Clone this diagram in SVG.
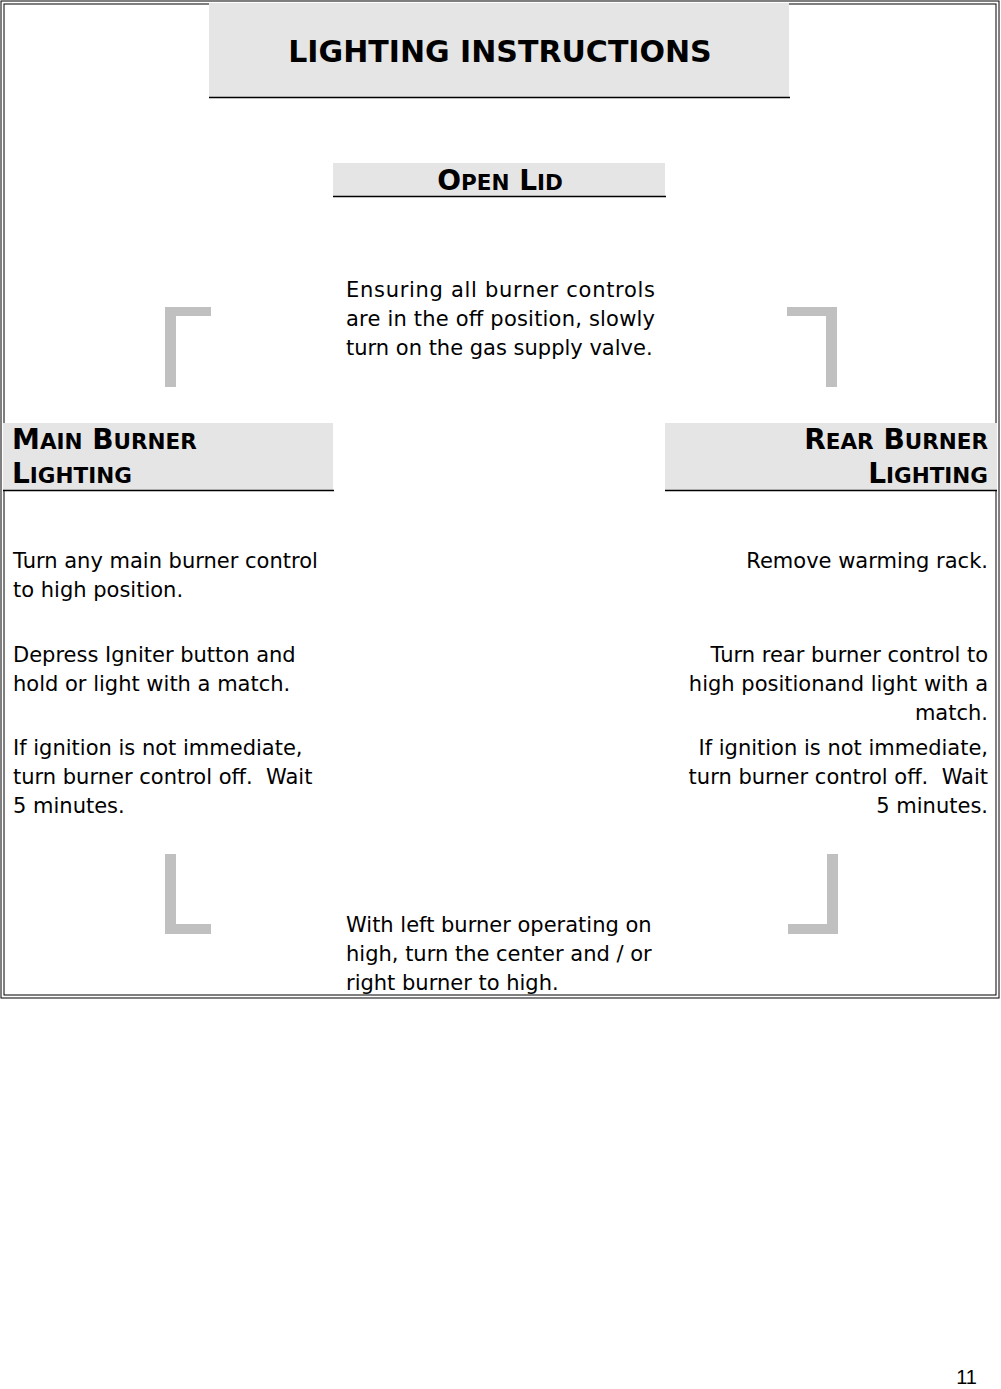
<svg xmlns="http://www.w3.org/2000/svg" width="1001" height="1389" viewBox="0 0 1001 1389">
<style>
.b{font-family:"DejaVu Sans",Verdana,sans-serif;font-size:21px;fill:#000;white-space:pre}
.h{font-family:"DejaVu Sans",Verdana,sans-serif;font-weight:bold;fill:#000}
.s{font-size:21.5px}
.box{fill:#e5e5e5}
.ln{stroke:#000;stroke-width:1.5}
.br{fill:#c0c0c0}
</style>
<rect width="1001" height="1389" fill="#fff"/>
<rect x="1" y="1" width="998" height="997" fill="none" stroke="#000" stroke-width="1"/>
<rect x="4" y="4" width="992" height="991" fill="none" stroke="#000" stroke-width="1"/>
<g id="title"><rect class="box" x="209" y="3" width="580" height="94"/><line class="ln" x1="209" y1="97.5" x2="790" y2="97.5"/>
<text class="h" x="500" y="62" font-size="30" text-anchor="middle">LIGHTING INSTRUCTIONS</text></g>
<g id="open"><rect class="box" x="333" y="163" width="332" height="33"/><line class="ln" x1="333" y1="196.5" x2="666" y2="196.5"/>
<text class="h" x="500" y="190" font-size="28" text-anchor="middle">O<tspan class="s">PEN</tspan> L<tspan class="s">ID</tspan></text></g>
<g id="ensure"><text class="b"><tspan x="346" y="297" textLength="309" lengthAdjust="spacing">Ensuring all burner controls</tspan><tspan x="346" y="326" textLength="309" lengthAdjust="spacing">are in the off position, slowly</tspan><tspan x="346" y="355">turn on the gas supply valve.</tspan></text></g>
<g id="main"><rect class="box" x="3" y="423" width="330" height="67"/><line class="ln" x1="3" y1="490.5" x2="334" y2="490.5"/>
<text class="h" font-size="28"><tspan x="12" y="449">M<tspan class="s">AIN</tspan> B<tspan class="s">URNER</tspan></tspan><tspan x="12" y="483">L<tspan class="s">IGHTING</tspan></tspan></text>
<text class="b"><tspan x="13" y="568">Turn any main burner control</tspan><tspan x="13" y="597">to high position.</tspan><tspan x="13" y="662">Depress Igniter button and</tspan><tspan x="13" y="691">hold or light with a match.</tspan><tspan x="13" y="755">If ignition is not immediate,</tspan><tspan x="13" y="784">turn burner control off.  Wait</tspan><tspan x="13" y="813">5 minutes.</tspan></text></g>
<g id="rear"><rect class="box" x="665" y="423" width="332" height="67"/><line class="ln" x1="665" y1="490.5" x2="997" y2="490.5"/>
<text class="h" font-size="28" text-anchor="end"><tspan x="988" y="449">R<tspan class="s">EAR</tspan> B<tspan class="s">URNER</tspan></tspan><tspan x="988" y="483">L<tspan class="s">IGHTING</tspan></tspan></text>
<text class="b" text-anchor="end"><tspan x="988" y="568">Remove warming rack.</tspan><tspan x="988" y="662">Turn rear burner control to</tspan><tspan x="988" y="691">high positionand light with a</tspan><tspan x="988" y="720">match.</tspan><tspan x="988" y="755">If ignition is not immediate,</tspan><tspan x="988" y="784">turn burner control off.  Wait</tspan><tspan x="988" y="813">5 minutes.</tspan></text></g>
<g id="with"><text class="b"><tspan x="346" y="932">With left burner operating on</tspan><tspan x="346" y="961">high, turn the center and / or</tspan><tspan x="346" y="990">right burner to high.</tspan></text></g>
<g id="connectors">
<path class="br" d="M165 307H211V316H176V387H165Z"/>
<path class="br" d="M837 307H787V316H826V387H837Z"/>
<path class="br" d="M165 854H176V924H211V934H165Z"/>
<path class="br" d="M838 854H827V924H788V934H838Z"/>
</g>
<text x="977" y="1389" font-family="Liberation Sans,Arial,sans-serif" font-size="20" text-anchor="end" dy="-5">11</text>
</svg>
